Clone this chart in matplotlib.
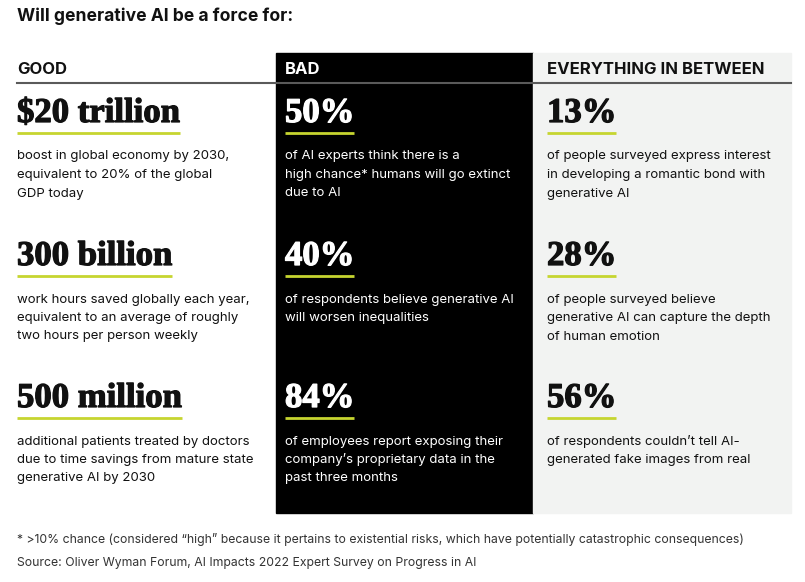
import matplotlib
matplotlib.use("Agg")
import matplotlib.pyplot as plt
import matplotlib.patheffects as pe
from matplotlib.patches import Rectangle

title = "Will generative AI be a force for:"
headers = ["GOOD", "BAD", "EVERYTHING IN BETWEEN"]

good_stats = ["$20 trillion", "300 billion", "500 million"]
bad_stats = ["50%", "40%", "84%"]
between_stats = ["13%", "28%", "56%"]

good_notes = [
    "boost in global economy by 2030,\nequivalent to 20% of the global\nGDP today",
    "work hours saved globally each year,\nequivalent to an average of roughly\ntwo hours per person weekly",
    "additional patients treated by doctors\ndue to time savings from mature state\ngenerative AI by 2030",
]
bad_notes = [
    "of AI experts think there is a\nhigh chance* humans will go extinct\ndue to AI",
    "of respondents believe generative AI\nwill worsen inequalities",
    "of employees report exposing their\ncompany\u2019s proprietary data in the\npast three months",
]
between_notes = [
    "of people surveyed express interest\nin developing a romantic bond with\ngenerative AI",
    "of people surveyed believe\ngenerative AI can capture the depth\nof human emotion",
    "of respondents couldn\u2019t tell AI-\ngenerated fake images from real",
]

footnote = "* >10% chance (considered \u201chigh\u201d because it pertains to existential risks, which have potentially catastrophic consequences)"
source = "Source: Oliver Wyman Forum, AI Impacts 2022 Expert Survey on Progress in AI"

SANS = ["Inter", "DejaVu Sans"]
SERIF = ["Liberation Serif", "DejaVu Serif"]
LIME = "#c6d530"

fig = plt.figure(figsize=(8.05, 5.82), dpi=100)
ax = fig.add_axes([0, 0, 1, 1])
ax.set_xlim(0, 805)
ax.set_ylim(582, 0)
ax.axis("off")

# column panels
ax.add_patch(Rectangle((276, 53), 257, 460, color="black", zorder=0))
ax.add_patch(Rectangle((533, 53), 258, 460, color="#f2f3f2", zorder=0))
ax.plot([17, 791], [83, 83], color="#5a5a5a", lw=1.5, zorder=1)

ax.text(17, 16, title, family=SANS, fontsize=12.6, fontweight="bold",
        va="center", ha="left", color="#111111")

columns = [
    (17, "#111111", good_stats, good_notes),
    (285, "white", bad_stats, bad_notes),
    (547, "#111111", between_stats, between_notes),
]
row_base = [122, 265, 407]

renderer = fig.canvas.get_renderer()
inv = ax.transData.inverted()

for (x, col, stats, notes), head in zip(columns, headers):
    ax.text(x, 69, head, family=SANS, fontsize=12, fontweight="bold",
            va="center", ha="left", color=col)
    for y, stat, note in zip(row_base, stats, notes):
        t = ax.text(x, y, stat, family=SERIF, fontsize=25, fontweight="bold",
                    va="baseline", ha="left", color=col,
                    path_effects=[pe.withStroke(linewidth=0.9, foreground=col)])
        bb = t.get_window_extent(renderer)
        x0, _ = inv.transform((bb.x0, bb.y0))
        x1, _ = inv.transform((bb.x1, bb.y0))
        ax.plot([x0, x1], [y + 11, y + 11], color=LIME, lw=2, solid_capstyle="butt")
        # one text per line so each baseline sits where the reference has it
        for i, line in enumerate(note.split("\n")):
            ax.text(x, y + 37.5 + i * 18.5, line, family=SANS, fontsize=9.5,
                    va="baseline", ha="left", color=col)

ax.text(17, 540, footnote, family=SANS, fontsize=8.8, va="center", ha="left", color="#333333")
ax.text(17, 563, source, family=SANS, fontsize=8.8, va="center", ha="left", color="#333333")

fig.savefig("out.png", dpi=100)
